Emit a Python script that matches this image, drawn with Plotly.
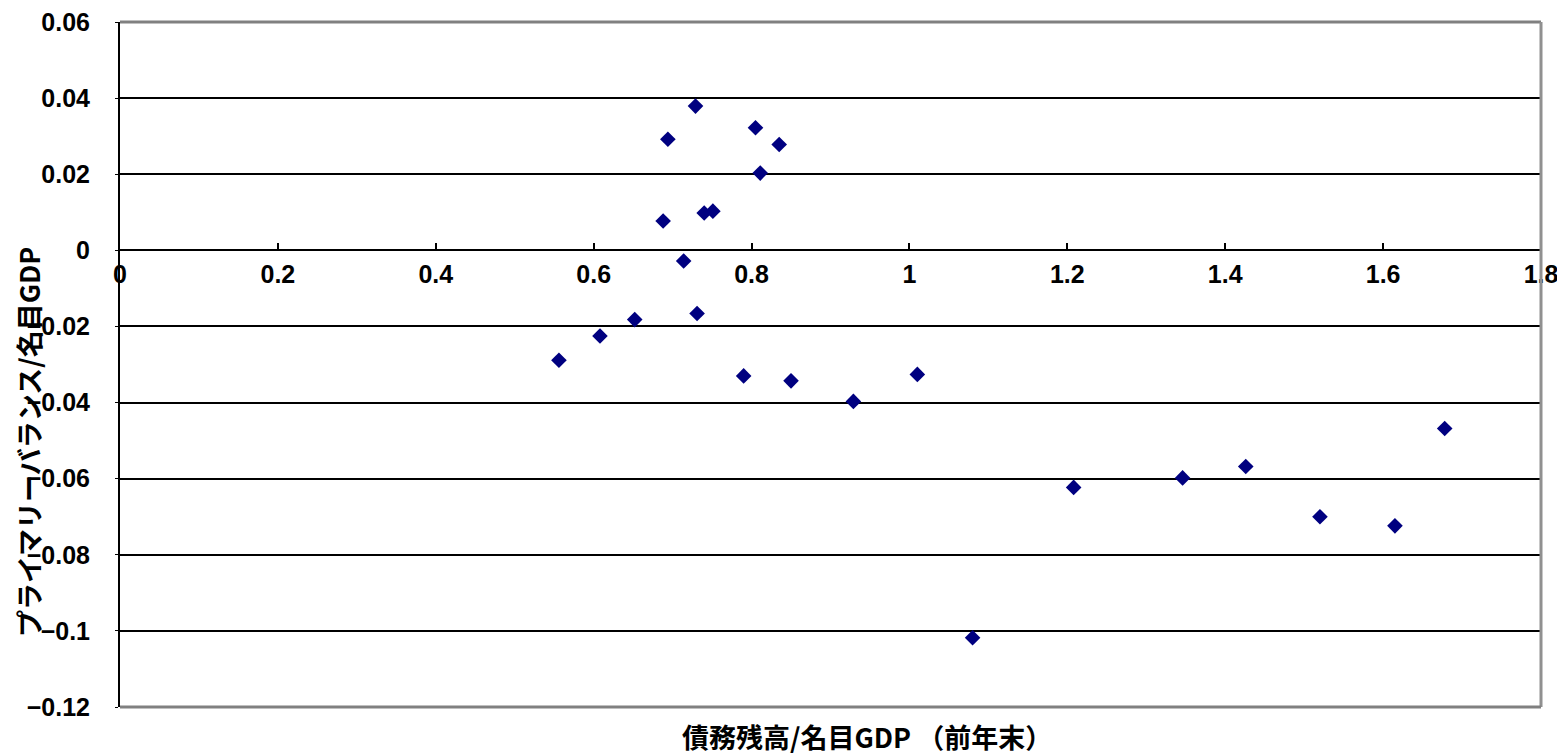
import plotly.graph_objects as go

# Data
debt_ratio = [0.556, 0.608, 0.652, 0.688, 0.694, 0.714, 0.729, 0.731, 0.740, 0.751,
              0.790, 0.805, 0.811, 0.835, 0.850, 0.929, 1.010, 1.080, 1.208, 1.346,
              1.426, 1.520, 1.615, 1.678]
primary_balance = [-0.0289, -0.0225, -0.0182, 0.0077, 0.0292, -0.0028, 0.0379, -0.0166, 0.0098, 0.0103,
                   -0.0330, 0.0322, 0.0203, 0.0278, -0.0343, -0.0397, -0.0326, -0.1018, -0.0623, -0.0598,
                   -0.0568, -0.0700, -0.0724, -0.0468]

x_tickvals = [0, 0.2, 0.4, 0.6, 0.8, 1.0, 1.2, 1.4, 1.6, 1.8]
x_ticktext = ["0", "0.2", "0.4", "0.6", "0.8", "1", "1.2", "1.4", "1.6", "1.8"]
y_tickvals = [0.06, 0.04, 0.02, 0, -0.02, -0.04, -0.06, -0.08, -0.1, -0.12]
y_ticktext = ["0.06", "0.04", "0.02", "0", "\u22120.02", "\u22120.04", "\u22120.06", "\u22120.08", "\u22120.1", "\u22120.12"]

x_title = "債務残高/名目GDP （前年末）"
y_title = "プライマリーバランス/名目GDP"

# page offset from default body margin
O = 8
W, H = 1565 - O, 755 - O
# target plot area in page pixels: x 120..1541, y 22..707
L, T = 120 - O, 22 - O
R = (O + W) - 1541
B = (O + H) - 707
pw, ph = W - L - R, H - T - B


def px_x(page_x):
    return (page_x - 120) / pw


def px_y(page_y):
    return (707 - page_y) / ph


tick_font = dict(family="Liberation Sans, Arial, sans-serif", size=25, color="black", weight="bold")
cjk_font = dict(family="Noto Sans CJK JP, sans-serif", size=27, color="black", weight="bold")

fig = go.Figure()
fig.add_trace(go.Scatter(
    x=debt_ratio, y=primary_balance, mode="markers",
    marker=dict(symbol="diamond", size=12, color="#000080",
                line=dict(width=0)),
    showlegend=False,
))

fig.update_layout(
    width=W, height=H,
    margin=dict(l=L, r=R, t=T, b=B, pad=0),
    plot_bgcolor="white", paper_bgcolor="white",
    xaxis=dict(
        range=[0, 1.8], tickvals=x_tickvals, ticktext=x_ticktext,
        anchor="free", position=2/3, automargin=False,
        showline=True, linecolor="black", linewidth=2,
        ticks="inside", ticklen=6, tickwidth=1.5, tickcolor="black",
        showgrid=False, zeroline=False, ticklabeloverflow="allow",
        tickfont=tick_font, ticklabelstandoff=2,
    ),
    yaxis=dict(
        range=[-0.12, 0.06], tickvals=y_tickvals, ticktext=y_ticktext,
        automargin=False, ticklabeloverflow="allow",
        showline=True, linecolor="black", linewidth=2,
        ticks="outside", ticklen=3, tickcolor="black",
        showgrid=True, gridcolor="black", gridwidth=2,
        zeroline=False,
        tickfont=tick_font, ticklabelstandoff=20,
    ),
    shapes=[
        dict(type="line", xref="paper", yref="paper", x0=0, x1=1, y0=1, y1=1,
             line=dict(color="#808080", width=3)),
        dict(type="line", xref="paper", yref="paper", x0=1, x1=1, y0=0, y1=1,
             line=dict(color="#909090", width=3)),
        dict(type="line", xref="paper", yref="paper", x0=0, x1=1, y0=0, y1=0,
             line=dict(color="#808080", width=3)),
    ],
    annotations=[
        dict(text=x_title, xref="paper", yref="paper",
             x=px_x(867), y=px_y(736),
             xanchor="center", yanchor="middle", showarrow=False,
             font=cjk_font),
        dict(text=y_title, xref="paper", yref="paper",
             x=px_x(29), y=px_y(442),
             xanchor="center", yanchor="middle", showarrow=False, textangle=-90,
             borderpad=0,
             font=cjk_font),
    ],
)

fig.write_html("out.html")
